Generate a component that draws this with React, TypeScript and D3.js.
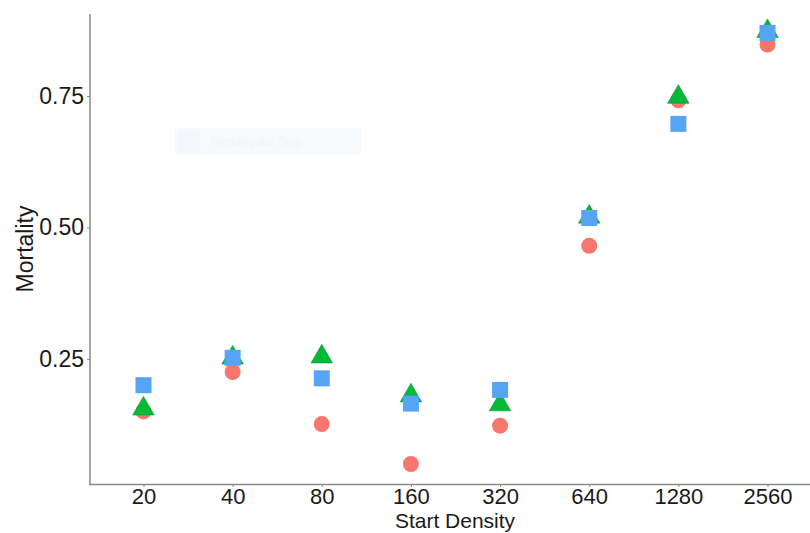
import React, { useEffect, useRef } from "react";
import * as d3 from "d3";

const densities = ["20", "40", "80", "160", "320", "640", "1280", "2560"];
const circleValues = [0.15, 0.225, 0.126, 0.05, 0.123, 0.465, 0.742, 0.848];
const triangleValues = [0.155, 0.252, 0.254, 0.18, 0.163, 0.52, 0.748, 0.873];
const squareValues = [0.2, 0.252, 0.213, 0.165, 0.191, 0.518, 0.697, 0.87];
const yTicks = [0.25, 0.5, 0.75];

function App() {
  const canvas = useRef<SVGSVGElement>(null);

  useEffect(() => {
    const svg = d3.select(canvas.current);
    svg.selectAll("*").remove();

    const x = d3.scalePoint().domain(densities).range([90, 821]).padding(0.6);
    const y = d3.scaleLinear().domain([0.012, 0.906]).range([484, 14]);
    const font = "'Liberation Sans', Arial, sans-serif";

    // faint ghost box
    svg.append("rect").attr("x", 175).attr("y", 128).attr("width", 186).attr("height", 27)
      .attr("fill", "#f7fafd");
    svg.append("rect").attr("x", 178).attr("y", 131).attr("width", 22).attr("height", 21)
      .attr("fill", "#f3f7fc");
    svg.append("text").attr("x", 210).attr("y", 146).attr("font-family", font)
      .attr("font-size", 12).attr("fill", "#f1f4f9").text("Rectangular Snip");

    const gy = svg.append("g").attr("transform", "translate(90,0)")
      .call(d3.axisLeft(y).tickValues(yTicks).tickFormat(d3.format(".2f")).tickSize(3).tickPadding(3));
    gy.select(".domain").remove();
    gy.selectAll("line").attr("stroke", "#8a8a8a");
    gy.selectAll("text").attr("font-size", 23).attr("font-family", font).attr("fill", "#1a1a1a");

    const gx = svg.append("g").attr("transform", "translate(0,484)")
      .call(d3.axisBottom(x).tickSize(3).tickPadding(1));
    gx.select(".domain").remove();
    gx.selectAll("line").attr("stroke", "#8a8a8a");
    gx.selectAll("text").attr("font-size", 22).attr("font-family", font).attr("fill", "#1a1a1a");

    svg.append("line").attr("x1", 90).attr("x2", 90).attr("y1", 14).attr("y2", 485)
      .attr("stroke", "#8a8a8a").attr("stroke-width", 1.5);
    svg.append("line").attr("x1", 89).attr("x2", 810).attr("y1", 484.5).attr("y2", 484.5)
      .attr("stroke", "#8a8a8a").attr("stroke-width", 1.5);

    svg.selectAll("circle.pt").data(circleValues).enter().append("circle")
      .attr("class", "pt")
      .attr("cx", (_, i) => x(densities[i])!)
      .attr("cy", (d) => y(d))
      .attr("r", 8)
      .attr("fill", "#F8766D");

    const tri = d3.symbol().type(d3.symbolTriangle).size(200);
    svg.selectAll("path.tri").data(triangleValues).enter().append("path")
      .attr("class", "tri")
      .attr("d", tri)
      .attr("transform", (d, i) => `translate(${x(densities[i])},${y(d)})`)
      .attr("fill", "#00BA38")
      .attr("stroke", "#1f8a3a")
      .attr("stroke-width", 0.6);

    svg.selectAll("rect.sq").data(squareValues).enter().append("rect")
      .attr("class", "sq")
      .attr("x", (_, i) => x(densities[i])! - 8)
      .attr("y", (d) => y(d) - 8)
      .attr("width", 16)
      .attr("height", 16)
      .attr("fill", "#56A5F5");

    svg.append("text").attr("x", 455).attr("y", 528).attr("text-anchor", "middle")
      .attr("font-family", font).attr("font-size", 21).attr("fill", "#1a1a1a").text("Start Density");
    svg.append("text").attr("transform", "translate(33,249) rotate(-90)").attr("text-anchor", "middle")
      .attr("font-family", font).attr("font-size", 23).attr("fill", "#1a1a1a").text("Mortality");
  }, []);

  return (
    <svg ref={canvas} width={810} height={533}
      style={{ position: "absolute", left: 0, top: 0, background: "#fff" }} />
  );
}

export default App;
